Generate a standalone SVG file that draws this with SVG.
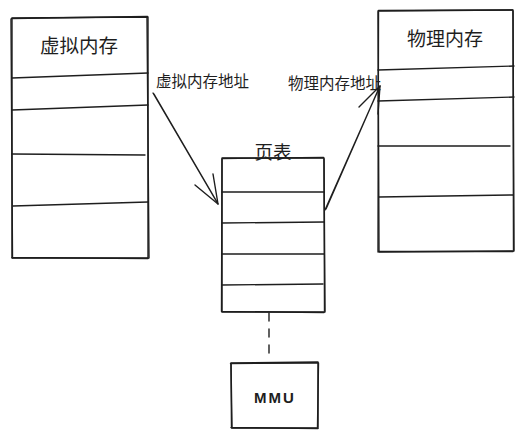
<svg xmlns="http://www.w3.org/2000/svg" width="526" height="438" viewBox="0 0 526 438">
<style>
.s{fill:none;stroke:#1e1e1e;stroke-width:1.4;stroke-linecap:round;stroke-linejoin:round}
.t{font-family:"Noto Sans CJK SC","Noto Sans",sans-serif;fill:#1e1e1e}
.bg{fill:#ffffff}
</style>
<rect class="bg" x="0" y="0" width="526" height="438"/>
<g id="virtual-memory">
<path class="s" d="M12 18 L148 17 L148 258 L12 258 Z"/>
<path class="s" d="M11.5 18.5 L147.5 16.5 M147 18 L149 258 M148 258.5 L12 257.5 M12.5 258 L11 19"/>
<path class="s" d="M12 78 L148 73 M12 110 L148 105 M12 154 L145 155 M13 206 L148 202"/>
<text class="t" x="79" y="53" font-size="19.5" text-anchor="middle">虚拟内存</text>
</g>
<g id="physical-memory">
<path class="s" d="M378 11 L513 10 L514 251 L379 252 Z"/>
<path class="s" d="M378.5 10.5 L512.5 10 M513 11 L513.5 250 M513 251.5 L378 251.5 M378 252 L378.5 12"/>
<path class="s" d="M378 70 L514 66 M378 101 L514 97 M378 146 L510 146 M379 197 L513 195"/>
<text class="t" x="445" y="46" font-size="19" text-anchor="middle">物理内存</text>
</g>
<g id="page-table">
<path class="s" d="M222 158 L324 158 L325 312 L222 312 Z"/>
<path class="s" d="M222.5 158.5 L323.5 157.5 M324 159 L324.5 311 M324 312.5 L221.5 311.5 M221.5 311 L222 159"/>
<path class="s" d="M222 192 L324 192 M222 223 L324 222 M222 254 L324 254 M222 285 L323 284"/>
<text class="t" x="273" y="159" font-size="18.5" text-anchor="middle">页表</text>
</g>
<g id="mmu">
<path class="s" d="M231 363 L318 362 L318 428 L232 428 Z"/>
<path class="s" d="M230.5 363.5 L317.5 363 M318.5 363 L317.5 427 M318 428.5 L231 427.5 M231.5 428 L231 364"/>
<text x="275" y="403" font-family="Liberation Sans, sans-serif" font-size="15" font-weight="bold" letter-spacing="2" text-anchor="middle" fill="#1e1e1e">MMU</text>
</g>
<g id="connectors">
<path class="s" d="M153 93 L218 204 M154 94 L217 202"/>
<path class="s" d="M195 185 L218 204 L213 174"/>
<path class="s" d="M325 210 L380 86 M326 209 L379 88"/>
<path class="s" d="M359 107 L380 86 L378 114"/>
<path class="s" d="M269 313 L269 357" stroke-dasharray="8 8"/>
<text class="t" x="156" y="87" font-size="15.5">虚拟内存地址</text>
<text class="t" x="288" y="89" font-size="15.5">物理内存地址</text>
</g>
</svg>
